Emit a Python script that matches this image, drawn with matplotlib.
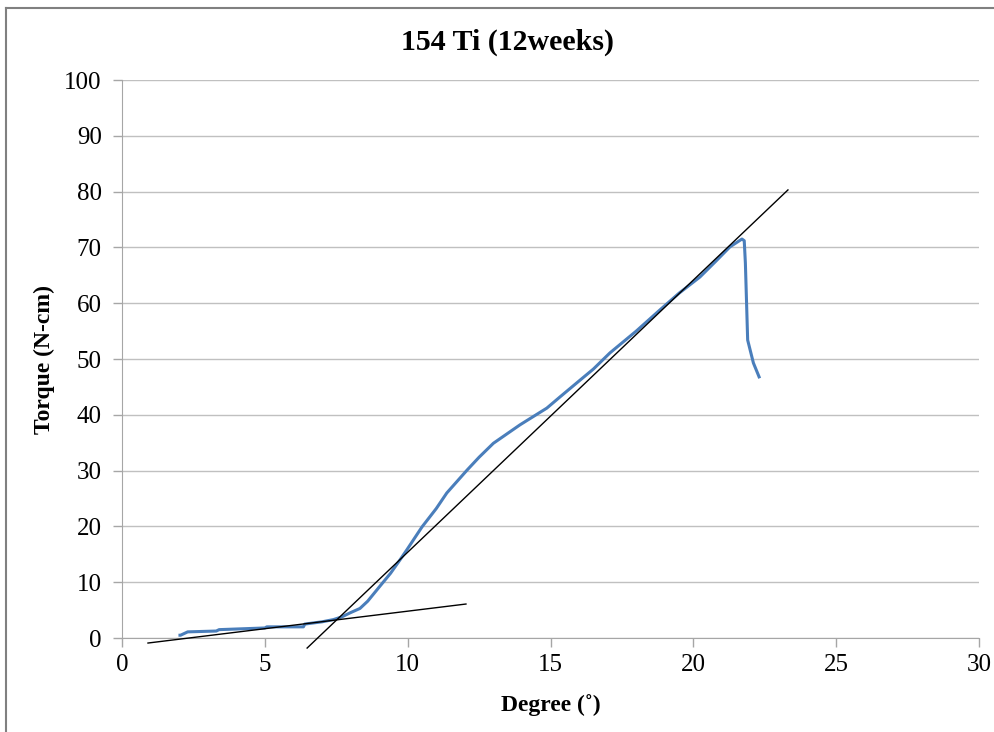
import numpy as np
from matplotlib import pyplot as plt
from matplotlib.lines import Line2D

degree = [2.03, 2.05, 2.3, 3.3, 3.4, 5.0, 5.07, 6.35, 6.4, 7.0, 7.4, 7.7, 7.98,
          8.33, 8.6, 9.03, 9.4, 9.73, 9.97, 10.5, 11.0, 11.37, 12.08, 12.5, 13.0,
          13.93, 14.87, 15.33, 15.96, 16.5, 17.08, 18.0, 18.83, 19.5, 20.23, 20.8,
          21.28, 21.55, 21.7, 21.78, 21.82, 21.9, 22.1, 22.3]
torque = [0.5, 0.5, 1.1, 1.25, 1.5, 1.8, 2.0, 2.0, 2.5, 2.9, 3.3, 3.8, 4.5,
          5.3, 6.6, 9.3, 11.6, 14.0, 15.8, 19.9, 23.2, 26.0, 30.1, 32.4, 34.9,
          38.2, 41.2, 43.2, 45.9, 48.2, 51.1, 55.0, 58.8, 61.8, 64.7, 67.6,
          70.1, 71.0, 71.5, 71.2, 67.2, 53.4, 49.3, 46.8]

# fitted tangent lines (endpoints)
steep_x = [6.48, 23.31]
steep_y = [-1.8, 80.3]
shallow_x = [0.91, 12.04]
shallow_y = [-0.9, 6.09]

x_ticks = [0, 5, 10, 15, 20, 25, 30]
y_ticks = [0, 10, 20, 30, 40, 50, 60, 70, 80, 90, 100]

plt.rcParams["font.family"] = ["Liberation Serif", "DejaVu Serif"]

fig = plt.figure(figsize=(9.95, 7.32), dpi=100)
ax = fig.add_axes([0.1226, 0.1284, 0.8614, 0.7623])

ax.plot(degree, torque, color="#4a7ebb", lw=2.2, zorder=3)
ax.plot(steep_x, steep_y, color="black", lw=1.0, zorder=4, clip_on=False)
ax.plot(shallow_x, shallow_y, color="black", lw=1.0, zorder=4, clip_on=False)

ax.set_xlim(0, 30)
ax.set_ylim(0, 100)
ax.set_xticks(x_ticks)
ax.set_yticks(y_ticks)
ax.tick_params(axis="both", labelsize=18, length=6.5, width=1, color="#a6a6a6",
               direction="out")
ax.tick_params(axis="y", pad=8)
ax.tick_params(axis="x", pad=5)
ax.grid(axis="y", color="#c0c0c0", lw=1)
ax.set_axisbelow(True)
for side in ["top", "right"]:
    ax.spines[side].set_visible(False)
for side in ["left", "bottom"]:
    ax.spines[side].set_color("#a6a6a6")

fig.text(0.51, 0.942, "154 Ti (12weeks)", fontsize=21.5, fontweight="bold",
         ha="center", va="center")
ax.set_xlabel("Degree (˚)", fontsize=17, fontweight="bold", labelpad=13)
ax.set_ylabel("Torque (N-cm)", fontsize=17, fontweight="bold", labelpad=7)

# chart frame (left and top edges visible)
fig.add_artist(Line2D([0.0065, 0.0065], [0, 0.989], transform=fig.transFigure,
                      color="#808080", lw=1.5))
fig.add_artist(Line2D([0.0065, 1.0], [0.989, 0.989], transform=fig.transFigure,
                      color="#808080", lw=1.5))

plt.savefig("out.png", dpi=100)
